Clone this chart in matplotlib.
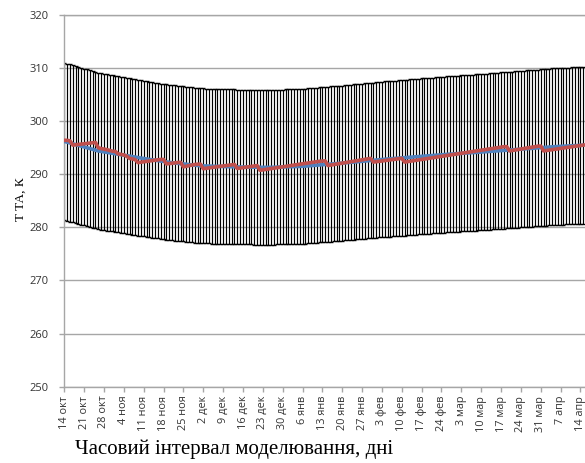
import numpy as np
import matplotlib.pyplot as plt

# daily series, 14 Oct .. 14/15 Apr (day index 0..183)
model_t = [
    296.20, 296.05, 295.90, 295.75, 295.60, 295.45, 295.30, 295.15, 295.00, 294.85,
    294.70, 294.55, 294.40, 294.31, 294.22, 294.12, 294.03, 293.94, 293.85, 293.76,
    293.67, 293.57, 293.48, 293.39, 293.30, 293.22, 293.13, 293.05, 292.97, 292.88,
    292.80, 292.72, 292.63, 292.55, 292.47, 292.38, 292.30, 292.24, 292.18, 292.13,
    292.07, 292.01, 291.95, 291.89, 291.83, 291.78, 291.72, 291.66, 291.60, 291.58,
    291.57, 291.55, 291.53, 291.52, 291.50, 291.48, 291.47, 291.45, 291.43, 291.42,
    291.40, 291.39, 291.38, 291.38, 291.37, 291.36, 291.35, 291.34, 291.33, 291.33,
    291.32, 291.31, 291.30, 291.32, 291.33, 291.35, 291.37, 291.38, 291.40, 291.42,
    291.43, 291.45, 291.47, 291.48, 291.50, 291.54, 291.59, 291.63, 291.68, 291.72,
    291.76, 291.81, 291.85, 291.89, 291.94, 291.98, 292.03, 292.07, 292.11, 292.16,
    292.20, 292.25, 292.30, 292.35, 292.40, 292.45, 292.50, 292.55, 292.60, 292.65,
    292.70, 292.75, 292.80, 292.84, 292.88, 292.93, 292.97, 293.01, 293.05, 293.09,
    293.13, 293.18, 293.22, 293.26, 293.30, 293.34, 293.38, 293.43, 293.47, 293.51,
    293.55, 293.59, 293.63, 293.68, 293.72, 293.76, 293.80, 293.84, 293.87, 293.91,
    293.94, 293.98, 294.01, 294.05, 294.08, 294.12, 294.15, 294.19, 294.22, 294.26,
    294.30, 294.34, 294.38, 294.42, 294.46, 294.50, 294.54, 294.58, 294.62, 294.66,
    294.70, 294.74, 294.78, 294.82, 294.86, 294.90, 294.94, 294.98, 295.02, 295.06,
    295.10, 295.14, 295.18, 295.21, 295.23, 295.26, 295.29, 295.32, 295.34, 295.37,
    295.40, 295.43, 295.45, 295.48,
]

measured_t = [
    296.40, 296.40, 296.30, 295.50, 295.56, 295.62, 295.69, 295.75, 295.81, 295.88,
    295.94, 296.00, 295.00, 294.85, 294.75, 294.65, 294.50, 294.35, 294.30, 293.85,
    293.75, 293.65, 293.40, 293.00, 292.90, 292.75, 292.20, 292.28, 292.35, 292.43,
    292.50, 292.58, 292.65, 292.73, 292.80, 292.80, 291.95, 292.02, 292.10, 292.18,
    292.22, 292.25, 291.40, 291.52, 291.63, 291.74, 291.85, 291.90, 291.92, 291.05,
    291.13, 291.20, 291.28, 291.35, 291.43, 291.50, 291.58, 291.65, 291.73, 291.80,
    291.85, 291.10, 291.18, 291.27, 291.35, 291.43, 291.52, 291.60, 291.65, 290.75,
    290.83, 290.92, 291.00, 291.08, 291.16, 291.25, 291.33, 291.41, 291.49, 291.58,
    291.66, 291.74, 291.82, 291.91, 291.99, 292.07, 292.15, 292.24, 292.32, 292.40,
    292.45, 292.50, 292.52, 291.65, 291.74, 291.83, 291.92, 292.01, 292.10, 292.19,
    292.28, 292.37, 292.46, 292.55, 292.64, 292.73, 292.82, 292.91, 293.00, 292.30,
    292.37, 292.44, 292.51, 292.58, 292.65, 292.72, 292.79, 292.86, 292.93, 293.00,
    292.30, 292.38, 292.47, 292.55, 292.63, 292.71, 292.80, 292.88, 292.96, 293.05,
    293.13, 293.21, 293.29, 293.38, 293.46, 293.54, 293.63, 293.71, 293.79, 293.87,
    293.96, 294.04, 294.12, 294.21, 294.29, 294.37, 294.45, 294.54, 294.62, 294.70,
    294.79, 294.87, 294.95, 295.03, 295.12, 295.20, 295.22, 294.40, 294.49, 294.58,
    294.67, 294.76, 294.85, 294.94, 295.03, 295.12, 295.21, 295.30, 295.32, 294.40,
    294.48, 294.56, 294.64, 294.71, 294.79, 294.87, 294.95, 295.03, 295.11, 295.19,
    295.26, 295.34, 295.42, 295.50,
]

week_labels = [
    '14 окт', '21 окт', '28 окт', '4 ноя', '11 ноя', '18 ноя', '25 ноя',
    '2 дек', '9 дек', '16 дек', '23 дек', '30 дек', '6 янв', '13 янв',
    '20 янв', '27 янв', '3 фев', '10 фев', '17 фев', '24 фев', '3 мар',
    '10 мар', '17 мар', '24 мар', '31 мар', '7 апр', '14 апр',
]

err_frac = 0.05  # percentage error bars

days = np.arange(len(model_t))
model = np.array(model_t)
measured = np.array(measured_t)

fig = plt.figure(figsize=(5.85, 4.63), dpi=100)
ax = fig.add_axes([0.1099, 0.1648, 0.8901, 0.8028])

grid_c = '#A6A6A6'
ax.set_ylim(250, 320)
ax.set_xlim(0, 183.6)
ax.set_yticks(np.arange(250, 321, 10))
ax.yaxis.grid(True, color=grid_c, lw=1.0)
ax.set_axisbelow(True)

ax.errorbar(days, model, yerr=model * err_frac, fmt='none', ecolor='black',
            elinewidth=0.85, capsize=1.2, capthick=1.0, zorder=2)
ax.plot(days, model, color='#4F81BD', lw=2.6, zorder=3, solid_capstyle='round')
ax.plot(days, measured, color='#C0504D', lw=2.6, zorder=4, solid_joinstyle='round')

ax.set_xticks(days[::7][:len(week_labels)])
ax.set_xticklabels(week_labels, rotation=90, family=['Open Sans', 'DejaVu Sans'],
                   fontsize=7.8, color='#333333')
for lab in ax.get_yticklabels():
    lab.set_family(['Open Sans', 'DejaVu Sans'])
    lab.set_fontsize(8)
    lab.set_color('#333333')

ax.tick_params(axis='x', direction='out', length=3.5, width=1, color=grid_c, pad=3)
ax.tick_params(axis='y', direction='out', length=3.5, width=1, color=grid_c, pad=8)

ax.spines['right'].set_visible(False)
for side in ['left', 'bottom', 'top']:
    ax.spines[side].set_color(grid_c)
    ax.spines[side].set_linewidth(1.0)

fig.text(0.036, 0.57, 'T ТА, К', rotation=90, ha='center', va='center',
         family='Liberation Serif', fontsize=9.5)
fig.text(0.128, 0.030, 'Часовий інтервал моделювання, дні', ha='left', va='center',
         family='Liberation Serif', fontsize=15)

fig.savefig('out.png', dpi=100)
